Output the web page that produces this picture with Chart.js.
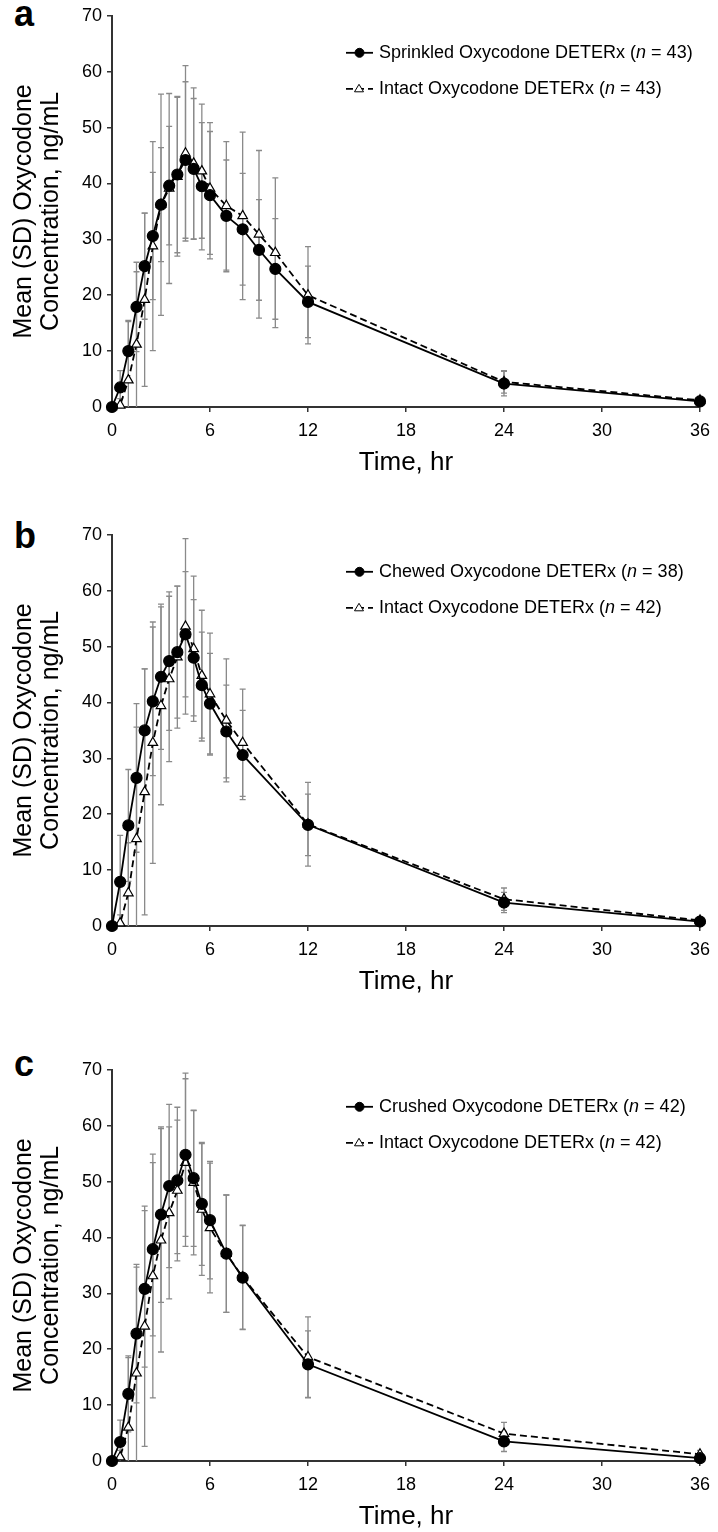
<!DOCTYPE html>
<html>
<head>
<meta charset="utf-8">
<script src="https://cdn.jsdelivr.net/npm/chart.js@4.4.0/dist/chart.umd.min.js"></script>
<style>
  body { margin: 0; background: #fff; width: 718px; height: 1532px; position: relative; overflow: hidden; font-family: "Liberation Sans", Arial, sans-serif; }
  .panel { position: absolute; left: 0; width: 718px; height: 478px; }
  .letter { position: absolute; left: 14px; font-weight: bold; font-size: 36px; line-height: 1; color: #000; }
</style>
</head>
<body>
<div class="letter" style="top:-4px">a</div>
<div class="letter" style="top:518px">b</div>
<div class="letter" style="top:1046px">c</div>
<div class="panel" style="top:0"><canvas id="chartA" width="718" height="478"></canvas></div>
<div class="panel" style="top:519px"><canvas id="chartB" width="718" height="478"></canvas></div>
<div class="panel" style="top:1054px"><canvas id="chartC" width="718" height="478"></canvas></div>
<script>
// sampling times (hr)
const timesA = [0, 0.5, 1, 1.5, 2, 2.5, 3, 3.5, 4, 4.5, 5, 5.5, 6, 7, 8, 9, 10, 12, 24, 36];
const timesBC = [0, 0.5, 1, 1.5, 2, 2.5, 3, 3.5, 4, 4.5, 5, 5.5, 6, 7, 8, 12, 24, 36];

// panel a: sprinkled vs intact
const sprinkledMean = [0, 3.5, 10, 17.9, 25.2, 30.6, 36.2, 39.6, 41.6, 44.2, 42.6, 39.5, 37.9, 34.2, 31.8, 28.1, 24.7, 18.8, 4.2, 1.0];
const sprinkledSD = [0, 3, 5.5, 8, 9.5, 11.4, 10.2, 10.6, 14, 14, 12.6, 11.4, 11.4, 10, 10, 9, 9, 6.4, 2.2, 0.6];
const intactAMean = [0, 0.3, 4.8, 11.2, 19.2, 28.8, 36.2, 39.1, 41.2, 45.4, 43.6, 42.2, 39.1, 36, 34.2, 30.9, 27.6, 20, 4.5, 1.2];
const intactASD = [0, 1.2, 10.5, 13, 15.5, 18.7, 19.8, 17, 14.2, 15.7, 13.5, 12, 11.8, 11.5, 15, 15, 13.4, 8.7, 2, 0.7];

// panel b: chewed vs intact
const chewedMean = [0, 7.9, 18, 26.5, 35, 40.2, 44.6, 47.4, 49, 52.2, 48, 43.1, 39.8, 34.8, 30.6, 18.1, 4.2, 0.8];
const chewedSD = [0, 8.3, 10, 13.3, 11, 13.3, 13, 12.4, 11.8, 11.2, 10.4, 9.5, 9, 8.3, 8, 5.5, 1.8, 0.5];
const intactBMean = [0, 0.5, 5.9, 15.6, 24, 32.8, 39.4, 44.2, 48.1, 53.6, 49.6, 44.8, 41.5, 36.8, 32.8, 18.2, 4.8, 1.0];
const intactBSD = [0, 1.5, 9, 20, 22, 21.6, 17.7, 14.8, 12.7, 15.7, 13, 11.7, 10.9, 11, 9.6, 7.5, 2, 0.6];

// panel c: crushed vs intact
const crushedMean = [0, 3.4, 12, 22.8, 30.8, 37.9, 44.1, 49.2, 50.2, 54.8, 50.6, 46, 43.1, 37.1, 32.8, 17.3, 3.5, 0.5];
const crushedSD = [0, 3.9, 6.8, 12.4, 14, 15.5, 15.7, 14.6, 13.1, 14.6, 12.2, 11, 10.5, 10.5, 9.3, 6, 1.8, 0.4];
const intactCMean = [0, 0.7, 6, 15.7, 24.1, 33.1, 39.5, 44.4, 48.4, 53.4, 49.8, 45, 41.7, 37.1, 32.9, 18.6, 4.9, 1.2];
const intactCSD = [0, 1.2, 12.5, 19, 21.5, 21.8, 20, 15.4, 12.6, 15, 12.9, 11.8, 11.6, 10.5, 9.3, 7.2, 2, 0.7];

const xTicks = [0, 6, 12, 18, 24, 30, 36];
const yTitle = ['Mean (SD) Oxycodone', 'Concentration, ng/mL'];
const FONT = '"Liberation Sans", Arial, sans-serif';

// vertical SD bars, drawn under the lines
const errorBars = {
  id: 'errorBars',
  beforeDatasetsDraw(chart) {
    const {ctx, chartArea, scales: {x, y}} = chart;
    ctx.save();
    ctx.beginPath();
    ctx.rect(chartArea.left, chartArea.top - 2, chartArea.width, chartArea.height + 2);
    ctx.clip();
    ctx.strokeStyle = '#8a8a8a';
    ctx.lineWidth = 1.3;
    chart.data.datasets.forEach(ds => {
      ds.data.forEach((p, i) => {
        const sd = ds.sd[i];
        if (!sd) return;
        const px = x.getPixelForValue(p.x);
        const hi = y.getPixelForValue(p.y + sd);
        const lo = y.getPixelForValue(p.y - sd);
        ctx.beginPath();
        ctx.moveTo(px, hi); ctx.lineTo(px, lo);
        ctx.moveTo(px - 3, hi); ctx.lineTo(px + 3, hi);
        ctx.moveTo(px - 3, lo); ctx.lineTo(px + 3, lo);
        ctx.stroke();
      });
    });
    ctx.restore();
  }
};

// legend in the upper right: line sample with marker, then label with italic n
const sampleLegend = {
  id: 'sampleLegend',
  afterDraw(chart) {
    const ctx = chart.ctx;
    const top = chart.chartArea.top;
    chart.data.datasets.forEach((ds, i) => {
      const y = top + 37 + i * 36;
      ctx.save();
      ctx.strokeStyle = '#000';
      ctx.lineWidth = 1.8;
      ctx.setLineDash(ds.borderDash || []);
      ctx.beginPath();
      ctx.moveTo(346, y); ctx.lineTo(373, y);
      ctx.stroke();
      ctx.setLineDash([]);
      ctx.fillStyle = ds.pointBackgroundColor;
      ctx.lineWidth = 1;
      ctx.beginPath();
      if (ds.pointStyle === 'triangle') {
        ctx.moveTo(359, y - 4.5); ctx.lineTo(363.5, y + 3); ctx.lineTo(354.5, y + 3); ctx.closePath();
      } else {
        ctx.arc(359.5, y, 4.5, 0, Math.PI * 2);
      }
      ctx.fill();
      ctx.stroke();

      ctx.fillStyle = '#000';
      ctx.textBaseline = 'middle';
      ctx.font = '18px ' + FONT;
      let tx = 379;
      const head = ds.name + ' (';
      ctx.fillText(head, tx, y);
      tx += ctx.measureText(head).width;
      ctx.font = 'italic 18px ' + FONT;
      ctx.fillText('n', tx, y);
      tx += ctx.measureText('n').width;
      ctx.font = '18px ' + FONT;
      ctx.fillText(' = ' + ds.n + ')', tx, y);
      ctx.restore();
    });
  }
};

function series(name, n, times, mean, sd, intact) {
  return {
    name: name,
    n: n,
    data: times.map((t, i) => ({x: t, y: mean[i]})),
    sd: sd,
    borderColor: '#000',
    borderWidth: 1.8,
    borderDash: intact ? [7, 4] : [],
    pointStyle: intact ? 'triangle' : 'circle',
    pointRadius: intact ? 5.5 : 5.5,
    pointBackgroundColor: intact ? '#fff' : '#000',
    pointBorderColor: '#000',
    pointBorderWidth: 1.2,
    tension: 0,
    clip: false
  };
}

function makeChart(id, datasets) {
  const ctx = document.getElementById(id).getContext('2d');
  return new Chart(ctx, {
    type: 'line',
    data: {datasets: datasets},
    options: {
      responsive: false,
      animation: false,
      layout: {padding: {top: 10, right: 13, left: 0, bottom: 0}},
      plugins: {legend: {display: false}, tooltip: {enabled: false}},
      scales: {
        x: {
          type: 'linear',
          min: 0,
          max: 36,
          afterBuildTicks: s => { s.ticks = xTicks.map(v => ({value: v})); },
          afterFit: s => { s.height = 71; },
          ticks: {color: '#000', font: {family: FONT, size: 18}, padding: 8, maxRotation: 0},
          grid: {drawOnChartArea: false, drawTicks: true, tickLength: 5, color: '#333', lineWidth: 1.5},
          border: {color: '#333', width: 2},
          title: {display: true, text: 'Time, hr', color: '#000', font: {family: FONT, size: 26, lineHeight: 1.15}, padding: {top: 0, bottom: 0}}
        },
        y: {
          min: 0,
          max: 70,
          afterFit: s => { s.width = 112; },
          ticks: {stepSize: 10, color: '#000', font: {family: FONT, size: 18}, padding: 5},
          grid: {drawOnChartArea: false, drawTicks: true, tickLength: 5, color: '#333', lineWidth: 1.5},
          border: {color: '#333', width: 2},
          title: {display: true, text: yTitle, color: '#000', font: {family: FONT, size: 25, lineHeight: 1.1}, padding: {top: 10, bottom: 0}}
        }
      }
    },
    plugins: [errorBars, sampleLegend]
  });
}

makeChart('chartA', [
  series('Sprinkled Oxycodone DETERx', 43, timesA, sprinkledMean, sprinkledSD, false),
  series('Intact Oxycodone DETERx', 43, timesA, intactAMean, intactASD, true)
]);
makeChart('chartB', [
  series('Chewed Oxycodone DETERx', 38, timesBC, chewedMean, chewedSD, false),
  series('Intact Oxycodone DETERx', 42, timesBC, intactBMean, intactBSD, true)
]);
makeChart('chartC', [
  series('Crushed Oxycodone DETERx', 42, timesBC, crushedMean, crushedSD, false),
  series('Intact Oxycodone DETERx', 42, timesBC, intactCMean, intactCSD, true)
]);
</script>
</body>
</html>
